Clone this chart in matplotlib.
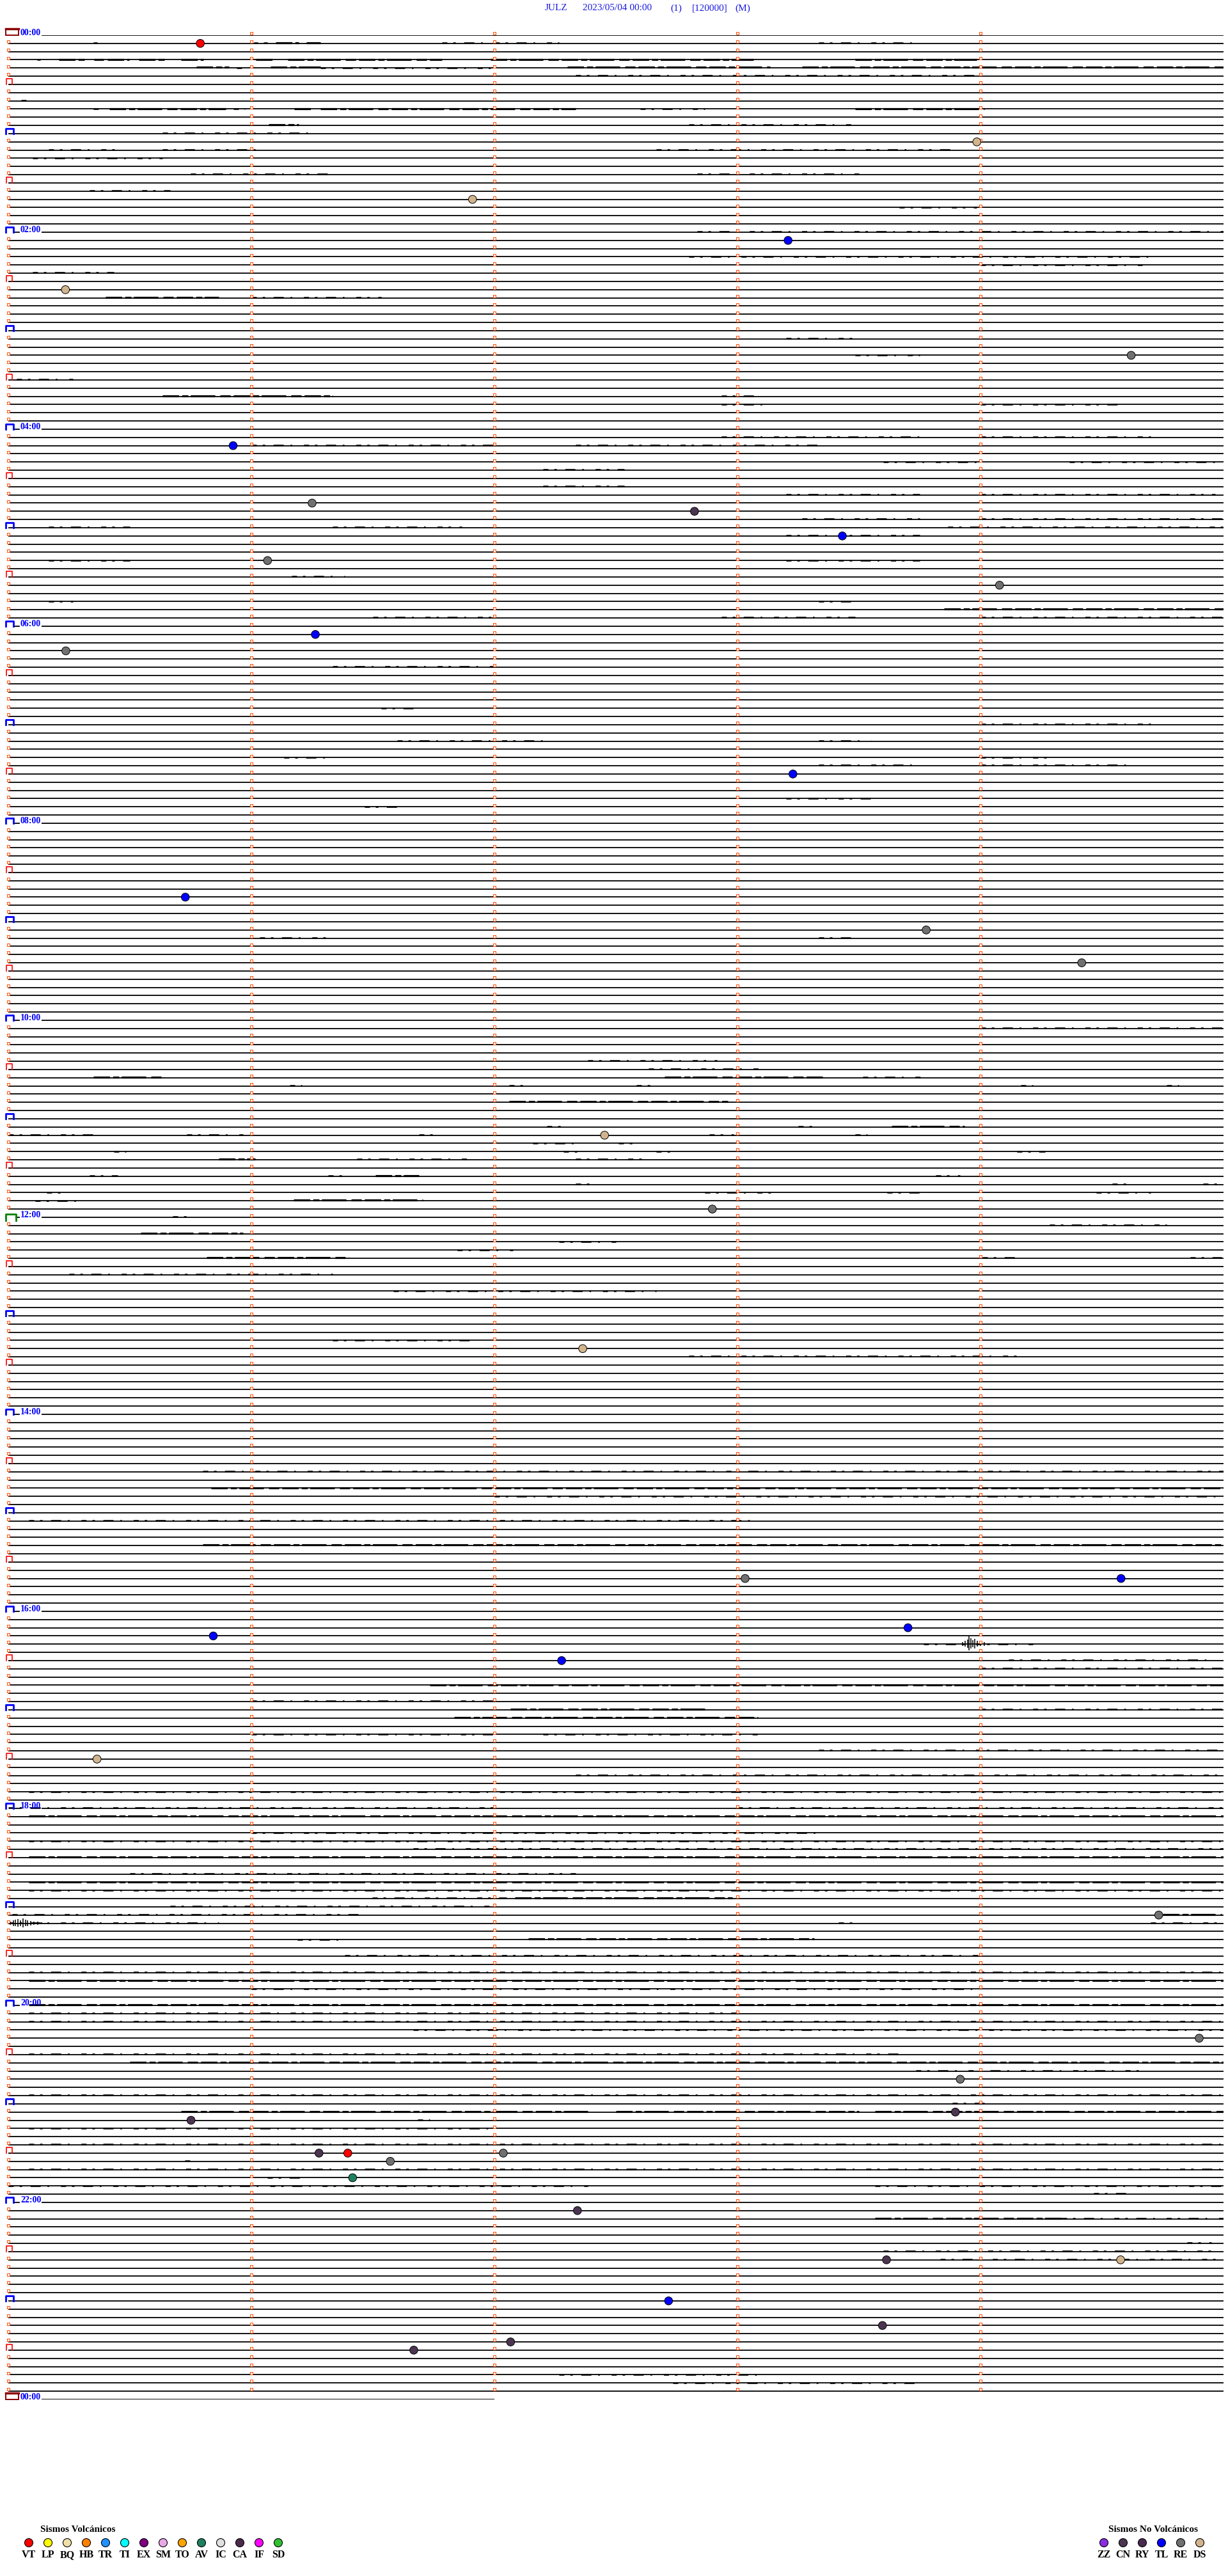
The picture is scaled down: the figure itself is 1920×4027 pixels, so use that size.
import matplotlib.pyplot as plt

# canvas in pixels
W, H, DPI = 1920, 4027, 100

# helicorder layout: 24 h, one line every 5 minutes
n_lines = 288
line_secs = 300
last_line_end = 120          # next-day 00:00 line is only partly drawn

title_parts = ["JULZ", "2023/05/04 00:00", "(1)", "[120000]", "(M)"]
title_px = [852, 911, 1048, 1082, 1149]

# picked events: line index, second within the line, class
event_line = [1, 13, 20, 25, 31, 39, 50, 57, 58, 61, 64, 67, 73, 75, 90, 105, 109,
              113, 134, 143, 160, 188, 188, 194, 195, 198, 210, 229, 244, 249, 253,
              254, 258, 258, 258, 259, 261, 265, 271, 271, 276, 279, 281, 282]
event_sec = [47.4, 239.1, 114.6, 192.5, 14.1, 277.2, 55.5, 75.0, 169.4, 205.9, 64.0,
             244.7, 75.8, 14.2, 193.7, 43.7, 226.6, 265.0, 147.2, 173.8, 141.8, 181.9,
             274.7, 222.1, 50.6, 136.6, 21.9, 284.0, 294.0, 235.0, 233.8, 45.1, 76.7,
             83.8, 122.2, 94.3, 85.0, 140.5, 216.8, 274.6, 163.0, 215.8, 124.0, 100.1]
event_type = ["VT", "DS", "DS", "TL", "DS", "RE", "TL", "RE", "CN", "TL", "RE", "RE",
              "TL", "RE", "TL", "TL", "RE", "RE", "DS", "RE", "DS", "RE", "TL", "TL",
              "TL", "TL", "DS", "RE", "RE", "RE", "CN", "CN", "CN", "VT", "RE", "RE",
              "AV", "CN", "CN", "DS", "TL", "CN", "CN", "CN"]

# background noise stretches (line, start s, end s)
dense_spans = [
    (1, 66, 71.7), (1, 73.5, 77), (3, 12.5, 19.3), (3, 21.2, 23.5), (3, 24.5, 29.8),
    (3, 32.2, 39), (3, 42.6, 48.2), (3, 61.1, 65.5), (3, 69, 107), (3, 119, 184),
    (3, 209, 239), (4, 46.4, 54.5), (4, 64.7, 77), (4, 138, 188), (4, 196, 300),
    (9, 25, 53.7), (9, 70.6, 75), (9, 77, 140), (9, 209, 241), (11, 64.3, 71.7),
    (32, 24, 52), (44, 38, 80), (70, 231, 300),
    (127, 21, 38.5), (127, 162, 201), (130, 123.6, 177.7), (133, 218, 236),
    (137, 52, 61), (139, 90.7, 101.4), (142, 70.4, 102.3), (146, 32.7, 57.9),
    (149, 49, 84), (177, 50, 300), (184, 48, 300),
    (201, 104, 300), (204, 124, 172), (205, 110, 185), (217, 5, 300), (222, 5, 300),
    (225, 5, 300), (227, 125, 178.7), (229, 285, 299.5), (232, 128.4, 199),
    (237, 5, 300), (240, 5, 300), (247, 30, 300), (253, 42.6, 143), (253, 150, 210),
    (253, 214, 300), (266, 214, 260),
]
sparse_spans = [
    (1, 21, 22), (1, 60.6, 61.5), (1, 63, 64), (1, 107, 136), (1, 200, 225),
    (3, 7.1, 7.9), (4, 56.4, 58.4), (4, 77, 119), (5, 140, 240), (8, 3.2, 5.5),
    (9, 21, 23), (9, 55.6, 58.4), (9, 156, 172), (11, 168, 209), (12, 38, 75),
    (14, 10, 28), (14, 38, 63), (14, 160, 233), (15, 6, 38), (17, 45, 80),
    (17, 170, 210), (19, 20, 40), (21, 220, 239), (24, 170, 300), (27, 168, 282),
    (28, 240, 280), (29, 6, 26), (32, 60, 92), (37, 192, 210), (39, 209, 225),
    (42, 2, 16), (44, 176, 185), (45, 176, 188), (45, 240, 275), (49, 176, 225),
    (49, 240, 282), (50, 60, 120), (50, 140, 200), (52, 216, 240), (52, 262, 298),
    (53, 132, 152), (55, 132, 152), (56, 192, 225), (56, 240, 298), (59, 196, 225),
    (59, 240, 300), (60, 10, 30), (60, 80, 112), (60, 232, 300), (61, 192, 225),
    (64, 10, 30), (64, 192, 225), (66, 70, 83), (69, 10, 16), (69, 200, 208),
    (71, 90, 120), (71, 176, 209), (71, 240, 300), (77, 80, 120), (82, 92, 100),
    (84, 240, 282), (86, 96, 132), (86, 200, 213), (88, 68, 80), (88, 240, 258),
    (89, 200, 225), (89, 240, 278), (93, 192, 213), (94, 88, 96), (110, 62, 80),
    (110, 200, 208), (121, 240, 300),
    (125, 143, 175), (126, 158, 186), (127, 211, 226), (128, 69.5, 72.4),
    (128, 123.6, 127.5), (128, 155, 159), (128, 250, 253), (128, 286, 289),
    (133, 133, 137), (133, 195, 199), (134, 0, 21), (134, 44, 58), (134, 101.4, 106),
    (134, 173, 179), (134, 209, 212), (135, 129.4, 140), (135, 150.7, 155.5),
    (136, 26, 29), (136, 137, 142), (136, 160, 164), (136, 249, 256), (137, 86, 114),
    (137, 140, 157.5), (139, 20, 27), (139, 79, 84), (139, 229, 235), (140, 140, 144),
    (140, 272.5, 277), (140, 295, 298.5), (141, 9.5, 13.4), (141, 172, 189),
    (141, 217, 226), (141, 268.5, 282), (142, 6.6, 17), (144, 40.5, 45.3),
    (145, 257, 286), (147, 136, 150), (148, 110.9, 124.6), (149, 240.5, 249),
    (149, 291.8, 299.5), (151, 15, 80), (153, 95, 160), (159, 80, 115),
    (161, 168, 250), (175, 48, 300), (178, 120, 300), (181, 5, 185),
    (196, 226, 253), (198, 247, 298), (199, 240, 300), (203, 60, 120),
    (204, 240, 300), (207, 60, 120), (207, 132, 185), (209, 200, 300), (212, 140, 300),
    (214, 5, 300), (216, 0, 120), (216, 180, 300), (219, 60, 200), (220, 5, 300),
    (221, 100, 300), (224, 30, 140), (226, 5, 300), (227, 89.8, 123), (228, 40, 120),
    (229, 0.9, 86.9), (230, 0, 52), (230, 205, 209), (230, 282, 299.5),
    (232, 71.4, 84), (234, 83, 239.6), (236, 5, 300), (238, 60, 240), (241, 5, 180),
    (242, 5, 300), (243, 100, 300), (246, 5, 220), (248, 224, 279), (251, 5, 300),
    (252, 233, 241), (254, 101, 104), (255, 5, 120), (257, 5, 300), (259, 43.5, 46.3),
    (260, 5, 300), (261, 64, 73), (262, 0, 143), (262, 214, 300), (263, 268, 276),
    (266, 260, 300), (269, 291, 297), (270, 216, 297), (271, 230, 300),
    (285, 136, 185), (286, 164, 225),
]

# short bursts: line, tick positions (s) and half amplitudes (px)
burst_line = [196, 230]
burst_secs = [[235.5, 236.2, 236.8, 237.2, 237.6, 238.1, 238.6, 239.2, 240.0, 241.0],
              [0.5, 1.2, 1.8, 2.4, 3.0, 3.6, 4.2, 4.8, 5.5, 6.3, 7.2, 8.2]]
burst_amps = [[3, 5, 7, 12, 9, 6, 8, 5, 4, 3],
              [3, 5, 6, 7, 5, 8, 6, 5, 4, 3, 3, 2]]

volc_types = ["VT", "LP", "BQ", "HB", "TR", "TI", "EX", "SM", "TO", "AV", "IC", "CA", "IF", "SD"]
volc_colors = ["#FF0000", "#FFFF00", "#F0E0A8", "#FF8000", "#1E90FF", "#00FFFF", "#800080",
               "#E8A8E8", "#FFA500", "#1E8060", "#E0E0E0", "#4A2A4A", "#FF00FF", "#30C030"]
novolc_types = ["ZZ", "CN", "RY", "TL", "RE", "DS"]
novolc_colors = ["#8A2BE2", "#4B3550", "#4A2A50", "#0000FF", "#707070", "#D2B48C"]
type_color = dict(zip(volc_types + novolc_types, volc_colors + novolc_colors))

# ---------------------------------------------------------------------------
top_px, bottom_px, left_px, right_px = 55, 55 + 288 * 12.833, 13, 1913
px_sec = (right_px - left_px) / line_secs
px_line = (bottom_px - top_px) / n_lines


def sx(px):
    return px / px_sec


def sy(px):
    return px / px_line


fig = plt.figure(figsize=(W / DPI, H / DPI), dpi=DPI)
ax = fig.add_axes([left_px / W, 1 - bottom_px / H, (right_px - left_px) / W,
                   (bottom_px - top_px) / H])
ax.set_xlim(0, line_secs)
ax.set_ylim(n_lines, 0)
ax.axis("off")

marker_red = "#FF4500"
blue = "#0000FF"

# trace base lines
for i in range(n_lines + 1):
    labelled = i % 24 == 0
    start = sx(52) if labelled else 0
    end = last_line_end if i == n_lines else line_secs
    ax.plot([start, end], [i, i], color="black", lw=1.3, solid_capstyle="butt", zorder=2)

# noise
for ln, t0, t1 in dense_spans:
    ax.hlines(ln - sy(0.9), t0, t1, color="black", lw=2.3,
              linestyles=[(0, (8, 1.5, 3, 1.2, 12, 2.5, 5, 1.5))], zorder=3)
for ln, t0, t1 in sparse_spans:
    ax.hlines(ln - sy(0.7), t0, t1, color="black", lw=1.9,
              linestyles=[(0, (3, 3.5, 1.5, 5, 6, 4, 1, 7))], zorder=3)

for ln, secs, amps in zip(burst_line, burst_secs, burst_amps):
    amps = [sy(a) for a in amps]
    ax.vlines(secs, [ln - a for a in amps], [ln + 0.8 * a for a in amps],
              color="black", lw=1.1, zorder=3)

# minute ticks
mx, my = [], []
for i in range(n_lines):
    for m in range(60, line_secs, 60):
        mx.append(m)
        my.append(i - sy(2.8))
    if i % 6 != 0:
        mx.append(0)
        my.append(i - sy(2.8))
ax.scatter(mx, my, marker="s", s=12, facecolors="white", edgecolors=marker_red,
           linewidths=0.7, zorder=4, clip_on=False)

# half hour squares
for i in range(6, n_lines, 12):
    x0, x1 = sx(-3.5), sx(5.5)
    ax.plot([x0, x0, x1, x1], [i, i - sy(9), i - sy(9), i], color="#FF0000", lw=1.2,
            zorder=4, clip_on=False)

# hour brackets and labels
for i in range(0, n_lines + 1, 12):
    hour = (i // 12) % 24
    if hour == 0:
        x0, x1 = sx(-3.7), sx(16.3)
        ax.fill([x0, x0, x1, x1], [i, i - sy(9.5), i - sy(9.5), i], facecolor="white",
                edgecolor="#8B0000", lw=1.4, zorder=4, clip_on=False)
        ax.plot([x0, x1], [i - sy(9.5), i - sy(9.5)], color="#8B0000", lw=2.5,
                zorder=5, clip_on=False)
    elif hour == 12:
        x0, x1 = sx(-3.7), sx(12.3)
        ax.plot([x0, x0, x1, x1], [i + sy(5.5), i - sy(4.5), i - sy(4.5), i + sy(5.5)],
                color="#008000", lw=2, zorder=4, clip_on=False)
        ax.plot([x1, sx(17)], [i, i], color="black", lw=1.3, zorder=2)
    else:
        x0, x1 = sx(-3.7), sx(7.7)
        ax.plot([x0, x0, x1, x1], [i, i - sy(8), i - sy(8), i], color=blue, lw=2,
                zorder=4, clip_on=False)
        if hour % 2 == 0:
            ax.plot([x1, sx(17)], [i, i], color="black", lw=1.3, zorder=2)
    if hour % 2 == 0:
        ax.text(sx(19), i, f"{hour:02d}:00", color=blue, fontsize=10,
                family="Liberation Serif", weight="bold", ha="left", va="baseline",
                zorder=5)

# events
ax.scatter(event_sec, event_line, s=82, c=[type_color[t] for t in event_type],
           edgecolors="black", linewidths=0.7, zorder=6, clip_on=False)

# title
for txt, px in zip(title_parts, title_px):
    fig.text(px / W, 1 - 13 / H, txt, color="#1A1AE0", fontsize=11,
             family="Liberation Serif", ha="left", va="center")


# legends
def legend(left_px, types, title, title_dx):
    lg = fig.add_axes([(left_px - 15) / W, 1 - 4010 / H, 30 * len(types) / W, 70 / H])
    lg.set_xlim(-0.5, len(types) - 0.5)
    lg.set_ylim(-1, 1)
    lg.axis("off")
    lg.scatter(range(len(types)), [0] * len(types), s=88,
               c=[type_color[t] for t in types], edgecolors="black", linewidths=0.8)
    for k, t in enumerate(types):
        lg.annotate(t, (k, 0), xytext=(0, -14), textcoords="offset points",
                    ha="center", va="center", fontsize=11.5, weight="bold",
                    family="Liberation Serif")
    lg.annotate(title, (title_dx, 0), xytext=(0, 14.5), textcoords="offset points",
                ha="left", va="center", fontsize=11, weight="bold",
                family="Liberation Serif")


legend(45, volc_types, "Sismos Volcánicos", 0.6)
legend(1726, novolc_types, "Sismos No Volcánicos", 0.23)

fig.savefig("out.png", dpi=DPI)
